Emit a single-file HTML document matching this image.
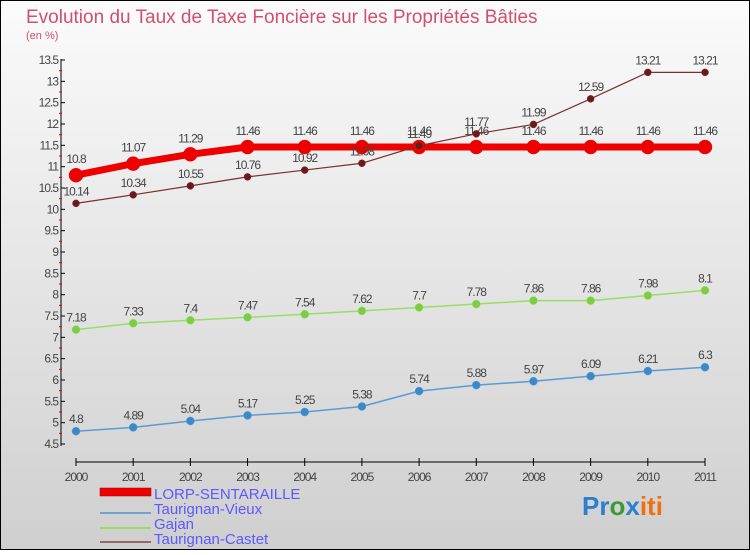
<!DOCTYPE html>
<html><head><meta charset="utf-8"><style>
html,body{margin:0;padding:0;}
body{width:750px;height:550px;overflow:hidden;font-family:"Liberation Sans",sans-serif;}
svg text{font-family:"Liberation Sans",sans-serif;}
</style></head><body>
<svg id="chart" width="750" height="550" xmlns="http://www.w3.org/2000/svg">
<defs><linearGradient id="bg" x1="0" y1="0" x2="0" y2="1"><stop offset="0" stop-color="#fbfbfb"/><stop offset="1" stop-color="#cfcfcf"/></linearGradient></defs>
<rect x="0.5" y="0.5" width="749" height="549" fill="url(#bg)" stroke="#000"/>
<text x="26" y="23" font-size="19" fill="#d0506e">Evolution du Taux de Taxe Foncière sur les Propriétés Bâties</text>
<text x="26" y="39" font-size="11" fill="#d0506e">(en %)</text>
<g id="axes"></g><g id="series"></g>
<g>
<rect x="100" y="488" width="51" height="8" fill="#e00" stroke="#900" stroke-width="0.5"/>
<text x="154" y="499" font-size="15" fill="#5a5aff">LORP-SENTARAILLE</text>
<line x1="100" y1="513" x2="151" y2="513" stroke="#6fa3d3" stroke-width="2"/>
<text x="154" y="514" font-size="15" fill="#5a5aff">Taurignan-Vieux</text>
<line x1="100" y1="528" x2="151" y2="528" stroke="#99dd66" stroke-width="2"/>
<text x="154" y="529" font-size="15" fill="#5a5aff">Gajan</text>
<line x1="100" y1="542" x2="151" y2="542" stroke="#996666" stroke-width="2"/>
<text x="154" y="544" font-size="15" fill="#5a5aff">Taurignan-Castet</text>
</g>
<text x="582" y="515" font-size="26" font-weight="bold"><tspan fill="#2a7fd0">Pr</tspan><tspan fill="#3a9a3a">o</tspan><tspan fill="#2a7fd0">x</tspan><tspan fill="#f07010">iti</tspan></text>
</svg>
<script>
const years=[2000,2001,2002,2003,2004,2005,2006,2007,2008,2009,2010,2011];
const lorp=[10.8,11.07,11.29,11.46,11.46,11.46,11.46,11.46,11.46,11.46,11.46,11.46];
const vieux=[4.8,4.89,5.04,5.17,5.25,5.38,5.74,5.88,5.97,6.09,6.21,6.3];
const gajan=[7.18,7.33,7.4,7.47,7.54,7.62,7.7,7.78,7.86,7.86,7.98,8.1];
const castet=[10.14,10.34,10.55,10.76,10.92,11.08,11.49,11.77,11.99,12.59,13.21,13.21];
const yTicks=[4.5,5,5.5,6,6.5,7,7.5,8,8.5,9,9.5,10,10.5,11,11.5,12,12.5,13,13.5];
const NS="http://www.w3.org/2000/svg";
const X=i=>76+i*(705-76)/11;
const Y=v=>60+(13.5-v)*384/9;
function mk(p,tag,a){const e=document.createElementNS(NS,tag);for(const k in a)e.setAttribute(k,a[k]);p.appendChild(e);return e;}
const ax=document.getElementById('axes');
let e=mk(ax,'line',{x1:61,y1:59,x2:61,y2:446,stroke:'#000','stroke-width':1});


e=mk(ax,'line',{x1:76,y1:462,x2:705,y2:462,stroke:'#000','stroke-width':1});


yTicks.forEach(v=>{
 mk(ax,'line',{x1:61,y1:Y(v),x2:65,y2:Y(v),stroke:'#000'});
 if(v<13.5) mk(ax,'line',{x1:59,y1:Y(v+0.25),x2:62,y2:Y(v+0.25),stroke:'#d00'});
 const t=mk(ax,'text',{x:58,y:Y(v)+4,'font-size':12,'text-anchor':'end',fill:'#444','letter-spacing':'-1'});
 
 
 t.textContent=v;
});
years.forEach((y,i)=>{
 mk(ax,'line',{x1:X(i),y1:458,x2:X(i),y2:466,stroke:'#000'});
 const t=mk(ax,'text',{x:X(i),y:481,'font-size':12,'text-anchor':'middle',fill:'#444','letter-spacing':'-1'});
 
 
 t.textContent=y;
});
const sg=document.getElementById('series');
function series(name,vals,col,dot,w,r,labOff){
 const g=mk(sg,'g',{});
 
 
 mk(g,'polyline',{points:vals.map((v,i)=>X(i)+','+Y(v)).join(' '),fill:'none',stroke:col,'stroke-width':w});
 vals.forEach((v,i)=>{
  const c=mk(g,'circle',{cx:X(i),cy:Y(v),r:r,fill:dot,stroke:col,'stroke-width':0.5});
  
  
  const t=mk(g,'text',{x:X(i),y:Y(v)+labOff,'font-size':12,'text-anchor':'middle',fill:'#444','letter-spacing':'-1'});
  
  
  t.textContent=v;
 });
}
series('series-taurignan-vieux',vieux,'#5b9bd5','#3a8ac8',1.5,4,-8);
series('series-gajan',gajan,'#99dd66','#7ccc44',1.5,4,-8);
series('series-lorp-sentaraille',lorp,'#ee0000','#ee0000',7,7,-12);
series('series-taurignan-castet',castet,'#7a3030','#6a1a1a',1.2,3.5,-8);
</script>
</body></html>
